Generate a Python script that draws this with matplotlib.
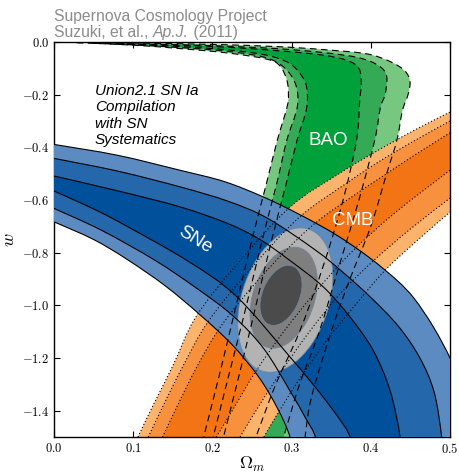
import numpy as np
import matplotlib.pyplot as plt
from matplotlib.transforms import Affine2D
from matplotlib.patches import Circle, PathPatch
from matplotlib.path import Path
from matplotlib.offsetbox import TextArea, HPacker, AnchoredOffsetbox

plt.rcParams['mathtext.fontset'] = 'cm'
SANS = 'Liberation Sans'

# ---- SNe contours: boundary curves (Omega_m, w), top-left to bottom-right
sne_c1 = [(0, -0.389), (0.08, -0.43), (0.159, -0.487), (0.215, -0.53), (0.264, -0.588),
          (0.31, -0.655), (0.355, -0.73), (0.397, -0.816), (0.433, -0.905), (0.455, -0.975),
          (0.479, -1.082), (0.5, -1.2), (0.512, -1.3), (0.525, -1.6)]
sne_c2 = [(0, -0.442), (0.08, -0.49), (0.159, -0.55), (0.22, -0.605), (0.27, -0.67),
          (0.33, -0.79), (0.365, -0.875), (0.40, -0.97), (0.435, -1.08), (0.462, -1.2),
          (0.48, -1.33), (0.4895, -1.5), (0.491, -1.6)]
sne_c3 = [(0, -0.509), (0.08, -0.565), (0.159, -0.626), (0.22, -0.69), (0.26, -0.75),
          (0.298, -0.83), (0.34, -0.93), (0.3737, -1.044), (0.403, -1.171), (0.4243, -1.323),
          (0.437, -1.5), (0.438, -1.6)]
sne_c4 = [(0, -0.566), (0.04, -0.62), (0.08, -0.68), (0.1675, -0.829), (0.23, -0.965),
          (0.298, -1.196), (0.335, -1.33), (0.36, -1.43), (0.3737, -1.5), (0.378, -1.6)]
sne_c5 = [(0, -0.632), (0.06, -0.715), (0.1275, -0.829), (0.18, -0.935), (0.226, -1.04),
          (0.265, -1.165), (0.298, -1.325), (0.318, -1.43), (0.330, -1.5), (0.334, -1.6)]
sne_c6 = [(0, -0.683), (0.05, -0.75), (0.092, -0.825), (0.14, -0.925), (0.184, -1.035),
          (0.225, -1.15), (0.258, -1.27), (0.282, -1.39), (0.298, -1.5), (0.303, -1.6)]

# ---- BAO contours: inner (left) and outer (right) boundary from the tip near w=0
bao_l3 = [(0.0286, -0.0025), (0.10, -0.012), (0.159, -0.025), (0.22, -0.042), (0.2685, -0.065),
          (0.285, -0.09), (0.294, -0.145), (0.296, -0.2), (0.294, -0.25), (0.282, -0.3725),
          (0.268, -0.54), (0.25, -0.75), (0.23, -1.0), (0.21, -1.25), (0.189, -1.5)]
bao_l2 = [(0.05, -0.005), (0.12, -0.014), (0.20, -0.03), (0.25, -0.048), (0.277, -0.07),
          (0.295, -0.11), (0.306, -0.17), (0.307, -0.25), (0.294, -0.3725), (0.281, -0.54),
          (0.263, -0.75), (0.243, -1.0), (0.222, -1.25), (0.201, -1.5)]
bao_l1 = [(0.08, -0.007), (0.15, -0.016), (0.22, -0.03), (0.265, -0.048), (0.29, -0.07),
          (0.305, -0.1), (0.318, -0.16), (0.319, -0.25), (0.307, -0.3725), (0.293, -0.54),
          (0.275, -0.75), (0.255, -1.0), (0.235, -1.25), (0.214, -1.5)]
bao_r1 = [(0.08, -0.007), (0.15, -0.012), (0.22, -0.02), (0.29, -0.035), (0.34, -0.05),
          (0.37, -0.07), (0.385, -0.1), (0.388, -0.16), (0.386, -0.22), (0.382, -0.3725),
          (0.365, -0.6), (0.34, -0.85), (0.31, -1.1), (0.28, -1.3), (0.255, -1.5)]
bao_r2 = [(0.05, -0.005), (0.12, -0.008), (0.20, -0.014), (0.28, -0.025), (0.34, -0.04),
          (0.385, -0.06), (0.41, -0.09), (0.42, -0.13), (0.418, -0.2), (0.412, -0.25),
          (0.405, -0.3725), (0.385, -0.6), (0.36, -0.85), (0.335, -1.1), (0.31, -1.3),
          (0.29, -1.5)]
bao_r3 = [(0.0286, -0.0025), (0.10, -0.004), (0.20, -0.009), (0.285, -0.018), (0.345, -0.03),
          (0.395, -0.045), (0.425, -0.075), (0.443, -0.11), (0.4495, -0.15), (0.447, -0.2),
          (0.44, -0.26), (0.433, -0.3725), (0.42, -0.5), (0.40, -0.7), (0.373, -0.905),
          (0.35, -1.1), (0.325, -1.35), (0.317, -1.5)]

# ---- CMB contours: upper-left and lower-right boundaries, bottom to right edge
cmb_u3 = [(0.106, -1.5), (0.125, -1.38), (0.15, -1.23), (0.18, -1.04), (0.235, -0.83),
          (0.298, -0.627), (0.36, -0.50), (0.41, -0.41), (0.455, -0.335), (0.5, -0.266)]
cmb_u2 = [(0.119, -1.5), (0.138, -1.38), (0.163, -1.23), (0.195, -1.06), (0.25, -0.855),
          (0.31, -0.665), (0.37, -0.535), (0.41, -0.455), (0.455, -0.375), (0.5, -0.30)]
cmb_u1 = [(0.137, -1.5), (0.156, -1.38), (0.181, -1.23), (0.213, -1.07), (0.265, -0.88),
          (0.325, -0.70), (0.38, -0.58), (0.41, -0.52), (0.455, -0.43), (0.5, -0.345)]
cmb_d1 = [(0.205, -1.5), (0.225, -1.4), (0.255, -1.25), (0.29, -1.1), (0.33, -0.95),
          (0.375, -0.8), (0.43, -0.65), (0.5, -0.487)]
cmb_d2 = [(0.235, -1.5), (0.255, -1.4), (0.285, -1.26), (0.32, -1.11), (0.36, -0.96),
          (0.40, -0.84), (0.45, -0.71), (0.5, -0.593)]
cmb_d3 = [(0.265, -1.5), (0.281, -1.418), (0.31, -1.28), (0.345, -1.13), (0.38, -1.0),
          (0.418, -0.867), (0.46, -0.75), (0.5, -0.646)]

# ---- combined fit: centre, spread in Omega_m, spread in w, correlation
comb_cx = [0.292, 0.290, 0.2866]
comb_cw = [-0.980, -0.971, -0.962]
comb_sx = [0.060, 0.0425, 0.0265]
comb_sw = [0.274, 0.192, 0.114]
comb_rho = [0.32, 0.32, 0.36]

xticks = [0.0, 0.1, 0.2, 0.3, 0.4, 0.5]
yticks = [-1.4, -1.2, -1.0, -0.8, -0.6, -0.4, -0.2, 0.0]

sne_cols = ['#5b8bc1', '#2467aa', '#00509c']
bao_cols = ['#77c781', '#34aa56', '#00a13b']
cmb_cols = ['#fcb46c', '#f8913d', '#f27414']
comb_cols = ['#b3b3b3', '#7f7f7f', '#4b4b4b']


def curve(pts):
    # smooth curve through the read points (Catmull-Rom as cubic Bezier)
    p = np.array(pts, float)
    n = len(p)
    verts, codes = [p[0]], [Path.MOVETO]
    for i in range(n - 1):
        a = p[i - 1] if i > 0 else p[i]
        d = p[i + 2] if i + 2 < n else p[i + 1]
        verts += [p[i] + (p[i + 1] - a) / 6, p[i + 1] - (d - p[i]) / 6, p[i + 1]]
        codes += [Path.CURVE4] * 3
    return verts, codes


def fill_band(ax, a, b, color, z):
    va, ca = curve(a)
    vb, cb = curve(b[::-1])
    cb[0] = Path.LINETO
    path = Path(va + vb + [va[0]], ca + cb + [Path.CLOSEPOLY])
    ax.add_patch(PathPatch(path, fc=color, ec='none', lw=0, zorder=z))


def draw(ax, c, **kw):
    v, cd = curve(c)
    ax.add_patch(PathPatch(Path(v, cd), fill=False, **kw))


fig = plt.figure(figsize=(4.6, 4.74), dpi=100)
ax = fig.add_axes([54/460, 1 - 437/474, 396/460, 395/474])

# BAO
for (l, r), col in zip([(bao_l3, bao_r3), (bao_l2, bao_r2), (bao_l1, bao_r1)], bao_cols):
    fill_band(ax, l, r, col, 1)
# CMB
for (u, d), col in zip([(cmb_u3, cmb_d3), (cmb_u2, cmb_d2), (cmb_u1, cmb_d1)], cmb_cols):
    fill_band(ax, u, d, col, 2)
# SNe
for (t, b), col in zip([(sne_c1, sne_c6), (sne_c2, sne_c5), (sne_c3, sne_c4)], sne_cols):
    fill_band(ax, t, b, col, 3)

# combined contours
for cx, cw, sx, sw, rho, col in zip(comb_cx, comb_cw, comb_sx, comb_sw, comb_rho, comb_cols):
    m = np.array([[sx, 0, cx], [sw*rho, sw*np.sqrt(1 - rho**2), cw], [0, 0, 1]])
    ax.add_patch(Circle((0, 0), 1, transform=Affine2D(m) + ax.transData,
                        fc=col, ec='#6b87a3', lw=0.5, zorder=4))

for c in [sne_c1, sne_c2, sne_c3, sne_c4, sne_c5, sne_c6]:
    draw(ax, c, ec='k', lw=0.8, zorder=5)
for c in [bao_l1, bao_l2, bao_l3, bao_r1, bao_r2, bao_r3]:
    draw(ax, c, ec='k', lw=0.8, ls=(0, (6, 4)), zorder=6)
for c in [cmb_u1, cmb_u2, cmb_u3, cmb_d1, cmb_d2, cmb_d3]:
    draw(ax, c, ec='k', lw=0.8, ls=(0, (1, 2)), zorder=6)

ax.set_xlim(0, 0.5)
ax.set_ylim(-1.5, 0)
ax.set_xticks(xticks)
ax.set_xticklabels([f'${v:.1f}$' for v in xticks])
ax.set_yticks(yticks)
ax.set_yticklabels([f'${v:.1f}$' for v in yticks])
ax.tick_params(direction='in', top=True, right=True, length=4, width=0.8,
               labelsize=9, pad=3.5)
for s in ax.spines.values():
    s.set_linewidth(1.0)
ax.set_xlabel(r'$\Omega_m$', fontsize=13)
ax.xaxis.set_label_coords(0.5, -0.045)
ax.set_ylabel(r'$w$', fontsize=13)
ax.yaxis.set_label_coords(-0.092, 0.5)

ax.text(0.1035, 0.894, 'Union2.1 SN Ia\nCompilation\nwith SN\nSystematics',
        transform=ax.transAxes, ha='left', va='top', fontsize=11, style='italic',
        family=SANS, linespacing=1.22, zorder=7)
ax.text(0.346, -0.3725, 'BAO', color='white', fontsize=13.5, family=SANS,
        ha='center', va='center', zorder=7)
ax.text(0.3775, -0.6765, 'CMB', color='white', fontsize=13.5, family=SANS,
        ha='center', va='center', zorder=7)
ax.text(0.178, -0.7526, 'SNe', color='white', fontsize=13.5, family=SANS,
        ha='center', va='center', rotation=-32, rotation_mode='anchor', zorder=7)

grey = '#8c8c8c'
fig.text(54/460, 1 - 20.7/474, 'Supernova Cosmology Project', color=grey,
         fontsize=11.3, family=SANS, va='baseline')
parts = [TextArea('Suzuki, et al., ', textprops=dict(color=grey, fontsize=11.3, family=SANS)),
         TextArea('Ap.J.', textprops=dict(color=grey, fontsize=11.3, family=SANS, style='italic')),
         TextArea(' (2011)', textprops=dict(color=grey, fontsize=11.3, family=SANS))]
box = HPacker(children=parts, align='baseline', pad=0, sep=0)
fig.add_artist(AnchoredOffsetbox(loc='lower left', child=box, pad=0, borderpad=0,
                                 frameon=False, bbox_to_anchor=(54/460, 1 - 40/474),
                                 bbox_transform=fig.transFigure))

fig.savefig('out.png', dpi=100)
